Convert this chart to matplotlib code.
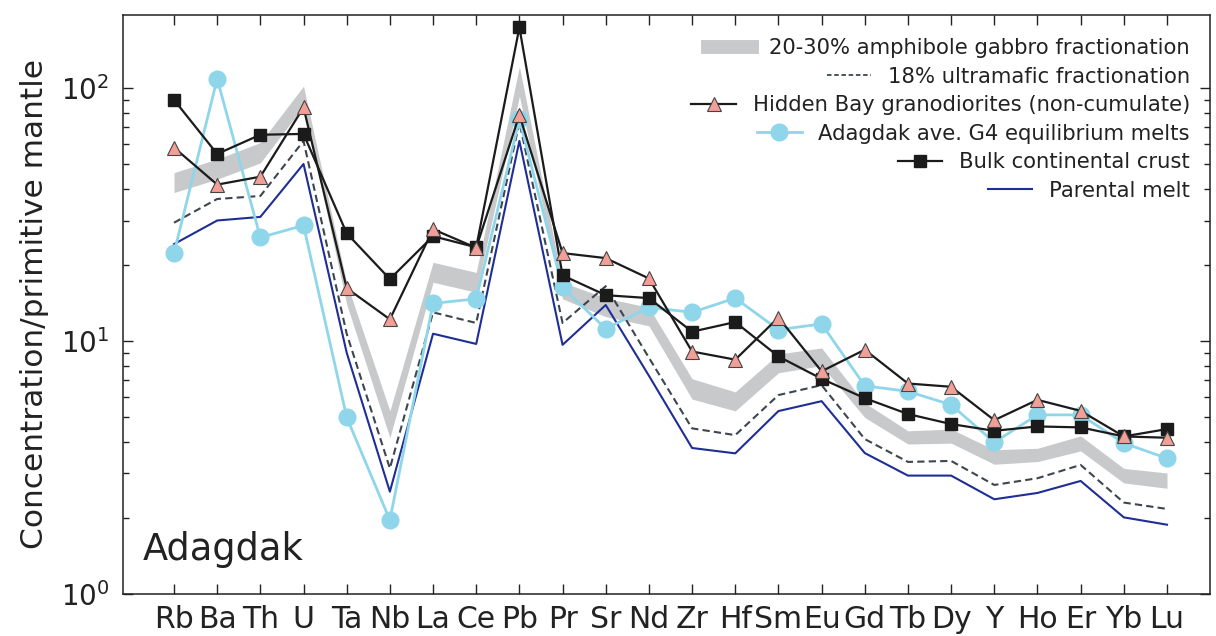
#!/usr/bin/env python3
"""Primitive-mantle normalised trace element diagram, Adagdak."""

import matplotlib
matplotlib.use("Agg")
import matplotlib.pyplot as plt
from matplotlib.lines import Line2D
from matplotlib.ticker import LogLocator, NullFormatter

elements = ["Rb", "Ba", "Th", "U", "Ta", "Nb", "La", "Ce", "Pb", "Pr", "Sr", "Nd",
            "Zr", "Hf", "Sm", "Eu", "Gd", "Tb", "Dy", "Y", "Ho", "Er", "Yb", "Lu"]

# 20-30% amphibole gabbro fractionation (band limits)
gabbro_hi = [46.4, 52.5, 61.0, 102.0, 17.0, 5.3, 20.5, 18.7, 122.0, 17.1, 14.8, 13.6,
             7.1, 6.3, 8.9, 9.4, 5.7, 4.42, 4.49, 3.72, 3.77, 4.22, 3.14, 3.01]
gabbro_lo = [38.7, 43.7, 50.7, 85.0, 14.0, 4.15, 17.1, 15.6, 93.0, 14.7, 12.5, 11.5,
             5.9, 5.3, 7.5, 8.0, 4.99, 3.92, 3.95, 3.26, 3.34, 3.68, 2.75, 2.62]
ultramafic = [29.4, 36.5, 37.5, 61.9, 10.7, 3.14, 13.0, 11.8, 73.4, 11.8, 16.5, 8.6,
              4.52, 4.25, 6.12, 6.7, 4.1, 3.33, 3.36, 2.7, 2.87, 3.24, 2.3, 2.17]
hidden_bay = [58.3, 41.6, 44.7, 84.0, 16.2, 12.2, 27.7, 23.4, 78.5, 22.3, 21.3, 17.7,
              9.1, 8.45, 12.4, 7.6, 9.25, 6.8, 6.6, 4.87, 5.86, 5.3, 4.2, 4.15]
g4_melts = [22.3, 109.0, 25.7, 28.7, 5.0, 1.96, 14.1, 14.7, 75.5, 16.3, 11.2, 13.6,
            13.0, 14.8, 11.1, 11.7, 6.66, 6.33, 5.6, 3.98, 5.11, 5.11, 3.95, 3.44]
bulk_crust = [90.0, 55.0, 65.5, 66.0, 26.7, 17.6, 26.0, 23.5, 174.0, 18.2, 15.2, 14.8,
              10.9, 11.9, 8.7, 7.1, 5.95, 5.15, 4.7, 4.42, 4.6, 4.56, 4.2, 4.49]
parental = [24.2, 30.0, 31.0, 50.2, 9.0, 2.54, 10.7, 9.75, 61.9, 9.67, 13.9, 7.3,
            3.78, 3.6, 5.29, 5.79, 3.61, 2.94, 2.94, 2.37, 2.51, 2.8, 2.01, 1.88]

GRAY = "#c8c9cb"
DASH = "#3c4650"
BLUE = "#8fd6ea"
SALMON = "#f2a097"
BLACK = "#1b1b1b"
NAVY = "#1f2e96"
TEXT = "#222222"


def main():
    plt.rcParams.update({"font.family": "DejaVu Sans", "axes.linewidth": 1.1})

    fig = plt.figure(figsize=(12.16, 6.36), dpi=100)
    ax = fig.add_axes([0.1012, 0.066, 0.894, 0.9105])
    x = list(range(len(elements)))

    ax.fill_between(x, gabbro_lo, gabbro_hi, color=GRAY, linewidth=0, zorder=1)
    ax.plot(x, ultramafic, ls=(0, (3.5, 2)), color=DASH, lw=1.5, zorder=2)
    ax.plot(x, parental, color=NAVY, lw=1.5, zorder=3)
    ax.plot(x, g4_melts, color=BLUE, lw=2.0, marker="o", ms=12,
            mfc=BLUE, mec=BLUE, zorder=4)
    ax.plot(x, bulk_crust, color=BLACK, lw=1.6, marker="s", ms=8.5,
            mfc=BLACK, mec=BLACK, zorder=5)
    ax.plot(x, hidden_bay, color=BLACK, lw=1.6, marker="^", ms=10,
            mfc=SALMON, mec="#444444", mew=0.8, zorder=6)

    ax.set_yscale("log")
    ax.set_ylim(1, 195)
    ax.set_xlim(-1.18, 24.0)
    ax.set_xticks(x)
    ax.set_xticklabels(elements, fontsize=21.5, color=TEXT)
    ax.yaxis.set_major_locator(LogLocator(base=10, numticks=10))
    ax.yaxis.set_minor_locator(LogLocator(base=10, subs=range(2, 10), numticks=20))
    ax.yaxis.set_minor_formatter(NullFormatter())
    ax.tick_params(axis="both", which="both", direction="in", top=True, right=True,
                   width=1.0, color=TEXT)
    ax.tick_params(axis="both", which="major", length=7)
    ax.tick_params(axis="y", which="minor", length=4)
    ax.tick_params(axis="y", which="major", labelsize=20, pad=10, labelcolor=TEXT)
    ax.tick_params(axis="x", which="major", pad=8)
    for sp in ax.spines.values():
        sp.set_color(TEXT)

    ax.set_ylabel("Concentration/primitive mantle", fontsize=22.5, labelpad=8,
                  color=TEXT)
    ax.text(0.018, 0.058, "Adagdak", transform=ax.transAxes, fontsize=26.5,
            va="baseline", ha="left", color=TEXT)

    handles = [
        Line2D([], [], color=GRAY, lw=10),
        Line2D([], [], color=DASH, lw=1.3, ls=(0, (2.5, 1.5))),
        Line2D([], [], color=BLACK, lw=1.6, marker="^", ms=10, mfc=SALMON,
               mec="#444444", mew=0.8),
        Line2D([], [], color=BLUE, lw=2.0, marker="o", ms=12, mfc=BLUE, mec=BLUE),
        Line2D([], [], color=BLACK, lw=1.6, marker="s", ms=8.5, mfc=BLACK),
        Line2D([], [], color=NAVY, lw=1.5),
    ]
    labels = [
        "20-30% amphibole gabbro fractionation",
        "18% ultramafic fractionation",
        "Hidden Bay granodiorites (non-cumulate)",
        "Adagdak ave. G4 equilibrium melts",
        "Bulk continental crust",
        "Parental melt",
    ]
    leg = ax.legend(handles, labels, loc="upper right", frameon=False, fontsize=15.2,
                    handlelength=2.1, handletextpad=0.8, labelspacing=0.4,
                    borderaxespad=0.3, bbox_to_anchor=(0.995, 0.985))
    for col in leg._legend_handle_box.get_children():
        col.align = "right"
    for t in leg.get_texts():
        t.set_color(TEXT)

    fig.savefig("out.png", dpi=100)


if __name__ == "__main__":
    main()
